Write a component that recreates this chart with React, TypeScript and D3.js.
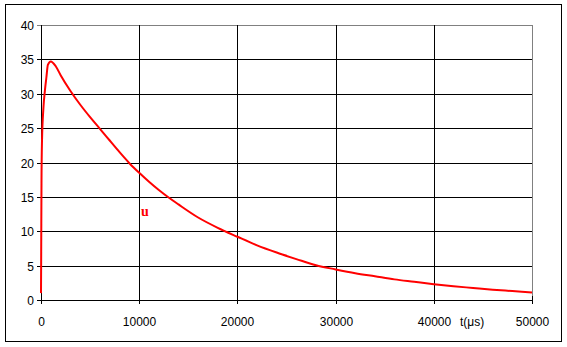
import React from "react";
import * as d3 from "d3";

const times = [0, 20, 50, 100, 250, 400, 550, 700, 1000, 1500, 2000, 3000, 4000, 5000, 6000, 7000, 8000, 9000, 10000, 11000, 12000, 13000, 14000, 16000, 18000, 20000, 22000, 24000, 26000, 28000, 30000, 32000, 34000, 36000, 38000, 40000, 42000, 44000, 46000, 48000, 50000];
const values = [1, 7, 17, 23, 28, 30.5, 32.4, 34.2, 34.7, 34.0, 32.7, 30.4, 28.4, 26.6, 24.9, 23.2, 21.5, 19.9, 18.5, 17.2, 16.0, 14.9, 13.9, 12.0, 10.5, 9.2, 7.95, 6.9, 5.95, 5.05, 4.45, 3.9, 3.45, 3.0, 2.65, 2.3, 2.0, 1.75, 1.5, 1.3, 1.1];
const xTicks = [0, 10000, 20000, 30000, 40000, 50000];
const yTicks = [0, 5, 10, 15, 20, 25, 30, 35, 40];
const seriesLabel = "u";
const axisTitle = "t(\u03bcs)";

export default function App() {
  const W = 567, H = 347;
  const L = 41, R = 532, T = 25, B = 300;
  const x = d3.scaleLinear().domain([0, 50000]).range([L, R]);
  const y = d3.scaleLinear().domain([0, 40]).range([B, T]);
  const line = d3.line<number>().x((_, i) => x(times[i])).y((d) => y(d)).curve(d3.curveMonotoneX);
  const font = "'Liberation Sans', Arial, sans-serif";
  return (
    <svg width={W} height={H} style={{ position: "absolute", left: 0, top: 0, background: "#fff" }}>
      <rect x={5.5} y={4.5} width={556} height={337} fill="#fff" stroke="#000" strokeWidth={1} />
      {yTicks.map((t) => (
        <g key={"y" + t}>
          <line x1={L - 4} x2={R} y1={Math.round(y(t)) + 0.5} y2={Math.round(y(t)) + 0.5} stroke={t === 40 ? "#808080" : "#000"} />
          <text x={34} y={Math.round(y(t)) + 4.5} textAnchor="end" fontFamily={font} fontSize={12}>{t}</text>
        </g>
      ))}
      {xTicks.map((t) => (
        <g key={"x" + t}>
          <line x1={Math.round(x(t)) + 0.5} x2={Math.round(x(t)) + 0.5} y1={T} y2={B + 4} stroke={t === 50000 ? "#808080" : "#000"} />
          <text x={Math.round(x(t)) + 0.5} y={326} textAnchor="middle" fontFamily={font} fontSize={12}>{t}</text>
        </g>
      ))}
      <line x1={R + 0.5} x2={R + 0.5} y1={B - 4} y2={B + 4} stroke="#000" />
      <line x1={L + 0.5} x2={L + 0.5} y1={T} y2={B + 4} stroke="#000" />
      <line x1={L - 4} x2={R} y1={B + 0.5} y2={B + 0.5} stroke="#000" />
      <path d={line(values) || ""} fill="none" stroke="#ff0000" strokeWidth={2} />
      <text x={141} y={216} fill="#ff0000" fontFamily="'Liberation Serif', 'Times New Roman', serif" fontWeight="bold" fontSize={14}>{seriesLabel}</text>
      <text x={460} y={326} fontFamily={font} fontSize={12}>{axisTitle}</text>
    </svg>
  );
}
